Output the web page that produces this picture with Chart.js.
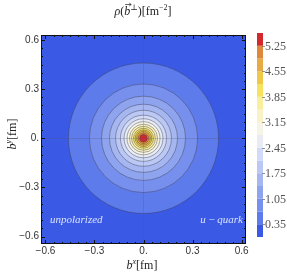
<!DOCTYPE html>
<html>
<head>
<meta charset="utf-8">
<script src="https://cdn.jsdelivr.net/npm/chart.js@4.4.1/dist/chart.umd.min.js"></script>
<style>
  html, body { margin: 0; padding: 0; background: #fff; }
  #wrap { width: 287px; height: 275px; }
</style>
</head>
<body>
<div id="wrap"><canvas id="densityChart" width="287" height="275"></canvas></div>
<script>
// contour levels of rho [fm^-2] and radius [fm] where the density crosses each level
const levels = [0.35, 0.7, 1.05, 1.4, 1.75, 2.1, 2.45, 2.8, 3.15, 3.5, 3.85, 4.2, 4.55, 4.9, 5.25];
const radii = [0.459, 0.331, 0.257, 0.208, 0.171, 0.141, 0.119, 0.101, 0.086, 0.073, 0.061, 0.051, 0.042, 0.032, 0.023];
const rhoMin = 0;
const rhoMax = 5.6;
// one colour per band, from lowest to highest
const bandColors = [
    '#3a5ae6', '#5e7beb', '#7890ed', '#8fa4ef', '#a5b6f1', '#bbc8f4', '#d1daf6',
    '#e8ebf3', '#f6f4e2', '#f9f2c6', '#f8ee9c', '#f5e35e', '#efc946', '#e8aa43',
    '#e0883a', '#d3282c'
];
const colorbarTicks = [0.35, 1.05, 1.75, 2.45, 3.15, 3.85, 4.55, 5.25];
const axisTicks = [-0.6, -0.3, 0, 0.3, 0.6];

const SERIF = '"Liberation Serif", "DejaVu Serif", serif';

function fmtTick(v) {
    if (v === 0) return '0.';
    return (v < 0 ? '\u2212' : '') + Math.abs(v).toFixed(1);
}

// draws a run of text pieces with their own fonts and vertical offsets
function drawRich(ctx, parts, x, y, align) {
    let total = 0;
    parts.forEach(p => { ctx.font = p.font; p.w = ctx.measureText(p.t).width; total += p.w; });
    let cx = align === 'center' ? x - total / 2 : (align === 'right' ? x - total : x);
    ctx.textBaseline = 'alphabetic';
    ctx.textAlign = 'left';
    parts.forEach(p => {
        ctx.font = p.font;
        ctx.fillText(p.t, cx, y + (p.dy || 0));
        p.x = cx;
        cx += p.w;
    });
    return parts;
}

const contourPlugin = {
    id: 'contours',
    beforeDraw(chart) {
        const { ctx, chartArea: a, scales: { x, y } } = chart;
        ctx.save();
        ctx.beginPath();
        ctx.rect(a.left, a.top, a.right - a.left, a.bottom - a.top);
        ctx.clip();
        ctx.fillStyle = bandColors[0];
        ctx.fillRect(a.left, a.top, a.right - a.left, a.bottom - a.top);
        const cx = x.getPixelForValue(0);
        const cy = y.getPixelForValue(0);
        levels.forEach((lv, i) => {
            const rx = x.getPixelForValue(radii[i]) - cx;
            const ry = cy - y.getPixelForValue(radii[i]);
            ctx.beginPath();
            ctx.ellipse(cx, cy, rx, ry, 0, 0, Math.PI * 2);
            ctx.fillStyle = bandColors[i + 1];
            ctx.fill();
            ctx.lineWidth = 0.8;
            ctx.strokeStyle = 'rgba(60,60,80,0.55)';
            ctx.stroke();
        });
        ctx.restore();
    },
    afterDraw(chart) {
        const { ctx, chartArea: a, scales: { x, y } } = chart;
        ctx.save();

        // frame with inward ticks
        ctx.strokeStyle = '#111';
        ctx.lineWidth = 1;
        ctx.strokeRect(a.left + 0.5, a.top + 0.5, a.right - a.left - 1, a.bottom - a.top - 1);
        ctx.beginPath();
        for (let k = -13; k <= 13; k++) {
            const v = k * 0.05;
            const major = Math.abs(Math.round(v * 100) % 30) === 0;
            const len = major ? 4 : 2;
            const px = Math.round(x.getPixelForValue(v)) + 0.5;
            if (px > a.left + 1 && px < a.right - 1) {
                ctx.moveTo(px, a.bottom); ctx.lineTo(px, a.bottom - len);
                ctx.moveTo(px, a.top); ctx.lineTo(px, a.top + len);
            }
            const py = Math.round(y.getPixelForValue(v)) + 0.5;
            if (py > a.top + 1 && py < a.bottom - 1) {
                ctx.moveTo(a.left, py); ctx.lineTo(a.left + len, py);
                ctx.moveTo(a.right, py); ctx.lineTo(a.right - len, py);
            }
        }
        ctx.stroke();

        // colour bar
        const cbLeft = 257, cbWidth = 6, cbTop = 33, cbBottom = 237;
        const cbY = v => cbBottom - (v - rhoMin) / (rhoMax - rhoMin) * (cbBottom - cbTop);
        const bounds = [rhoMin].concat(levels, [rhoMax]);
        bandColors.forEach((c, i) => {
            const y0 = cbY(bounds[i]), y1 = cbY(bounds[i + 1]);
            ctx.fillStyle = c;
            ctx.fillRect(cbLeft, y1, cbWidth, y0 - y1);
        });
        ctx.strokeStyle = '#777';
        ctx.lineWidth = 0.8;
        ctx.fillStyle = '#555';
        ctx.font = '12px ' + SERIF;
        ctx.textBaseline = 'middle';
        ctx.textAlign = 'left';
        colorbarTicks.forEach(v => {
            const py = Math.round(cbY(v)) + 0.5;
            ctx.beginPath();
            ctx.moveTo(cbLeft + cbWidth - 1, py);
            ctx.lineTo(cbLeft + cbWidth + 2, py);
            ctx.stroke();
            ctx.fillText(v.toFixed(2), cbLeft + cbWidth + 2, py + 0.5);
        });

        // title
        ctx.fillStyle = '#222';
        const it = 'italic 12px ' + SERIF, rm = '12px ' + SERIF, sup = '8px ' + SERIF;
        const tp = drawRich(ctx, [
            { t: '\u03c1', font: it },
            { t: '(', font: rm },
            { t: 'b', font: it },
            { t: '\u22a5', font: sup, dy: -5 },
            { t: ')[fm', font: rm },
            { t: '\u22122', font: sup, dy: -5 },
            { t: ']', font: rm }
        ], 143, 15, 'center');
        // vector arrow above b
        const bx = tp[2].x, bw = tp[2].w;
        ctx.strokeStyle = '#222';
        ctx.lineWidth = 0.7;
        ctx.beginPath();
        ctx.moveTo(bx + 1, 4.5); ctx.lineTo(bx + bw + 1, 4.5);
        ctx.moveTo(bx + bw - 1, 3); ctx.lineTo(bx + bw + 1, 4.5); ctx.lineTo(bx + bw - 1, 6);
        ctx.stroke();

        // axis titles
        drawRich(ctx, [
            { t: 'b', font: it },
            { t: 'x', font: 'italic 8px ' + SERIF, dy: -5 },
            { t: '[fm]', font: rm }
        ], 142, 269, 'center');
        ctx.save();
        ctx.translate(16, 134);
        ctx.rotate(-Math.PI / 2);
        drawRich(ctx, [
            { t: 'b', font: it },
            { t: 'y', font: 'italic 8px ' + SERIF, dy: -5 },
            { t: '[fm]', font: rm }
        ], 0, 0, 'center');
        ctx.restore();

        // labels inside the plot
        ctx.fillStyle = 'rgba(235,240,255,0.9)';
        drawRich(ctx, [{ t: 'unpolarized', font: 'italic 11px ' + SERIF }], 50, 223, 'left');
        drawRich(ctx, [
            { t: 'u', font: 'italic 11px ' + SERIF },
            { t: ' \u2212 ', font: '11px ' + SERIF },
            { t: 'quark', font: 'italic 11px ' + SERIF }
        ], 243, 223, 'right');

        ctx.restore();
    }
};

const zeroLine = ctx => (ctx.tick && ctx.tick.value === 0) ? 'rgba(80,80,100,0.3)' : 'rgba(0,0,0,0)';

const tickFont = { family: '"Liberation Sans", Arial, sans-serif', size: 10 };

new Chart(document.getElementById('densityChart'), {
    type: 'scatter',
    data: { datasets: [] },
    options: {
        responsive: false,
        animation: false,
        devicePixelRatio: 1,
        layout: { padding: { top: 35, right: 41, left: 0, bottom: 0 } },
        plugins: { legend: { display: false }, tooltip: { enabled: false } },
        scales: {
            x: {
                type: 'linear',
                min: -0.627,
                max: 0.627,
                afterBuildTicks: s => { s.ticks = axisTicks.map(v => ({ value: v })); },
                afterFit: s => { s.height = 31; },
                ticks: { callback: fmtTick, font: tickFont, color: '#333', padding: 1, autoSkip: false, maxRotation: 0 },
                grid: { color: zeroLine, lineWidth: 0.8, drawTicks: false },
                border: { display: false }
            },
            y: {
                type: 'linear',
                min: -0.645,
                max: 0.63,
                afterBuildTicks: s => { s.ticks = axisTicks.map(v => ({ value: v })); },
                afterFit: s => { s.width = 41; },
                ticks: { callback: fmtTick, font: tickFont, color: '#333', padding: 2, autoSkip: false },
                grid: { color: zeroLine, lineWidth: 0.8, drawTicks: false },
                border: { display: false }
            }
        }
    },
    plugins: [contourPlugin]
});
</script>
</body>
</html>
